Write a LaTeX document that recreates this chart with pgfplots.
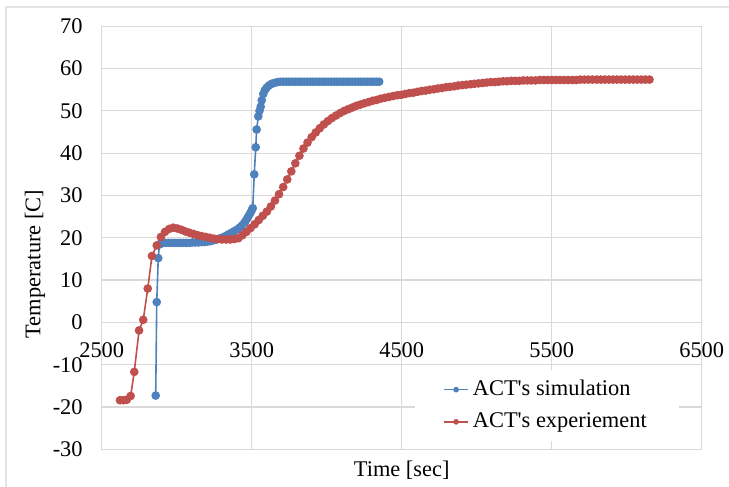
\documentclass[border=0pt]{standalone}
\usepackage{fontspec}
\setmainfont{Liberation Serif}[Ligatures=TeXOff]
\usepackage{pgfplots}
\pgfplotsset{compat=1.18}
\definecolor{simblue}{HTML}{4F81BD}
\definecolor{expred}{HTML}{C0504D}
\definecolor{gridgray}{RGB}{217,217,217}
\newcommand\cf{\fontsize{11.2}{13.4}\selectfont}

\begin{document}
\begin{tikzpicture}[x=0.5pt,y=0.5pt]
\useasboundingbox (0,0) rectangle (729,487);
\draw[gridgray!70,line width=0.6pt] (6,0) -- (6,480) -- (729,480);
\begin{axis}[
   at={(50.85pt,18.85pt)}, anchor=south west,
   scale only axis, width=300pt, height=211.5pt,
   xmin=2500, xmax=6500, ymin=-30, ymax=70,
   xtick={2500,3500,4500,5500,6500},
   xticklabels={2500,3500,4500,5500,6500},
   ytick={-30,-20,-10,0,10,20,30,40,50,60,70},
   yticklabels={-30,-20,-10,0,10,20,30,40,50,60,70},
   major tick length=0pt,
   tick label style={font=\cf},
   xticklabel style={anchor=north,yshift=57pt},
   yticklabel style={anchor=east,xshift=-6pt},
   grid=major, grid style={gridgray,line width=0.6pt},
   axis line style={gridgray,line width=0.6pt},
   xlabel={Time [sec]}, ylabel={Temperature [C]},
   label style={font=\cf},
   xlabel style={at={(axis description cs:0.5,0)},anchor=center,yshift=-10.5pt},
   ylabel style={at={(axis description cs:-0.111,0.438)},anchor=center},
   legend style={at={(axis description cs:0.522,0.1875)},anchor=north west,
       draw=none,fill=white,font=\cf,inner xsep=14pt,inner ysep=3pt,row sep=3pt},
   legend cell align=left,
   legend image code/.code={\draw[mark repeat=2,mark phase=2,mark size=1pt,#1]
       plot coordinates {(0pt,0pt)(6pt,0pt)(12pt,0pt)};},
   clip=false,
]
\addplot[simblue,line width=0.8pt,mark=*,mark size=1.75pt,mark options={solid,fill=simblue}]
  coordinates {(2860,-17.3) (2867,4.8) (2877,15.2) (2885,18.4) (2895,18.7)
   (2905,18.8) (2925,18.8) (2945,18.8) (2965,18.8) (2985,18.8) (3005,18.8)
   (3025,18.8) (3045,18.8) (3065,18.8) (3085,18.8) (3105,18.9) (3125,18.9)
   (3145,18.9) (3165,19.0) (3185,19.0) (3205,19.1) (3225,19.2) (3245,19.4)
   (3265,19.6) (3285,19.8) (3305,20.1) (3325,20.4) (3345,20.8) (3365,21.2)
   (3385,21.6) (3405,22.0) (3420,22.4) (3435,22.9) (3450,23.5) (3460,24.0)
   (3470,24.6) (3480,25.2) (3490,25.8) (3500,26.5) (3507,27.0) (3517,35.0)
   (3527,41.4) (3533,45.6) (3544,48.7) (3552,50.0) (3560,51.0) (3567,52.5)
   (3577,54.0) (3588,54.9) (3600,55.5) (3615,56.0) (3633,56.4) (3650,56.6)
   (3670,56.8) (3690,56.9) (3710,56.9) (3730,56.9) (3750,56.9) (3770,56.9)
   (3790,56.9) (3810,56.9) (3830,56.9) (3850,56.9) (3870,56.9) (3890,56.9)
   (3910,56.9) (3930,56.9) (3950,56.9) (3970,56.9) (3990,56.9) (4010,56.9)
   (4030,56.9) (4050,56.9) (4070,56.9) (4090,56.9) (4110,56.9) (4130,56.9)
   (4150,56.9) (4170,56.9) (4190,56.9) (4210,56.9) (4230,56.9) (4250,56.9)
   (4270,56.9) (4290,56.9) (4310,56.9) (4330,56.9) (4350,56.9)};
\addplot[expred,line width=0.8pt,mark=*,mark size=1.75pt,mark options={solid,fill=expred}]
  coordinates {(2622,-18.4) (2644,-18.4) (2667,-18.3) (2693,-17.4) (2717,-11.7)
   (2749,-1.9) (2777,0.6) (2807,8.0) (2835,15.7) (2867,18.2) (2895,20.2)
   (2922,21.4) (2950,22.1) (2977,22.4) (3004,22.2) (3031,21.9) (3058,21.5)
   (3085,21.2) (3112,20.9) (3140,20.6) (3167,20.4) (3194,20.2) (3221,20.0)
   (3248,19.8) (3275,19.7) (3302,19.6) (3330,19.6) (3357,19.6) (3384,19.7)
   (3411,19.9) (3438,20.6) (3465,21.4) (3492,22.3) (3520,23.2) (3547,24.2)
   (3574,25.2) (3601,26.2) (3628,27.4) (3655,28.8) (3682,30.3) (3710,32.0)
   (3737,33.8) (3764,35.7) (3791,37.6) (3818,39.4) (3845,41.1) (3872,42.5)
   (3900,43.8) (3927,44.9) (3954,45.9) (3981,46.8) (4008,47.6) (4035,48.3)
   (4062,48.9) (4090,49.5) (4117,50.0) (4144,50.4) (4171,50.8) (4198,51.2)
   (4225,51.5) (4252,51.8) (4280,52.1) (4307,52.4) (4334,52.6) (4361,52.9)
   (4388,53.1) (4415,53.3) (4442,53.5) (4470,53.7) (4497,53.8) (4524,54.0)
   (4551,54.2) (4578,54.3) (4605,54.5) (4632,54.7) (4660,54.8) (4687,55.0)
   (4714,55.1) (4741,55.3) (4768,55.4) (4795,55.6) (4822,55.7) (4850,55.8)
   (4877,56.0) (4904,56.1) (4931,56.2) (4958,56.3) (4985,56.4) (5012,56.5)
   (5040,56.6) (5067,56.7) (5094,56.8) (5121,56.8) (5148,56.9) (5175,57.0)
   (5202,57.0) (5230,57.1) (5257,57.1) (5284,57.1) (5311,57.2) (5338,57.2)
   (5365,57.2) (5392,57.2) (5420,57.3) (5447,57.3) (5474,57.3) (5501,57.3)
   (5528,57.3) (5555,57.3) (5582,57.3) (5610,57.3) (5637,57.3) (5664,57.3)
   (5691,57.4) (5718,57.4) (5745,57.4) (5772,57.4) (5800,57.4) (5827,57.4)
   (5854,57.4) (5881,57.4) (5908,57.4) (5935,57.4) (5962,57.4) (5990,57.4)
   (6017,57.4) (6044,57.4) (6071,57.4) (6098,57.4) (6125,57.4) (6152,57.4)};
\legend{ACT's simulation,ACT's experiement}
\end{axis}
\end{tikzpicture}
\end{document}
